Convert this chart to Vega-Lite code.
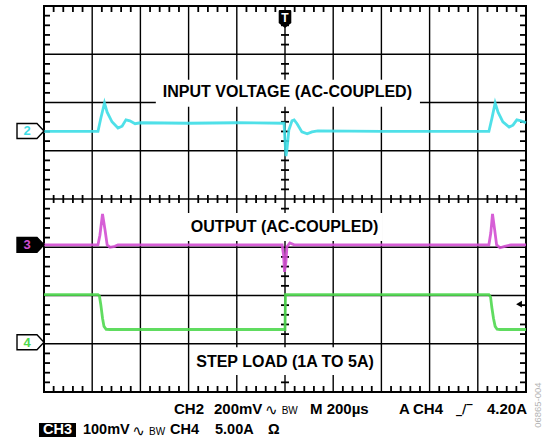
{
  "$schema": "https://vega.github.io/schema/vega-lite/v6.json",
  "width": 482,
  "height": 386,
  "autosize": {"type": "none"},
  "padding": {"left": 44, "top": 6, "right": 16, "bottom": 49},
  "background": "white",
  "config": {
    "view": {"stroke": "black", "strokeWidth": 2}
  },
  "datasets": {
    "tr": [
      {"ch": "2", "t": 0, "v": 5.40}, {"ch": "2", "t": 1.12, "v": 5.40}, {"ch": "2", "t": 1.18, "v": 5.68}, {"ch": "2", "t": 1.255, "v": 5.99},
      {"ch": "2", "t": 1.31, "v": 5.80}, {"ch": "2", "t": 1.41, "v": 5.60}, {"ch": "2", "t": 1.535, "v": 5.47}, {"ch": "2", "t": 1.62, "v": 5.51},
      {"ch": "2", "t": 1.70, "v": 5.64}, {"ch": "2", "t": 1.78, "v": 5.62}, {"ch": "2", "t": 1.89, "v": 5.56}, {"ch": "2", "t": 2.0, "v": 5.58},
      {"ch": "2", "t": 3.0, "v": 5.57}, {"ch": "2", "t": 4.0, "v": 5.58}, {"ch": "2", "t": 4.98, "v": 5.57}, {"ch": "2", "t": 5.0, "v": 5.20},
      {"ch": "2", "t": 5.02, "v": 4.89}, {"ch": "2", "t": 5.04, "v": 5.02}, {"ch": "2", "t": 5.08, "v": 5.43}, {"ch": "2", "t": 5.145, "v": 5.62},
      {"ch": "2", "t": 5.19, "v": 5.64}, {"ch": "2", "t": 5.25, "v": 5.56}, {"ch": "2", "t": 5.35, "v": 5.39}, {"ch": "2", "t": 5.46, "v": 5.35},
      {"ch": "2", "t": 5.56, "v": 5.39}, {"ch": "2", "t": 5.68, "v": 5.41}, {"ch": "2", "t": 7.0, "v": 5.40}, {"ch": "2", "t": 9.23, "v": 5.40},
      {"ch": "2", "t": 9.295, "v": 5.68}, {"ch": "2", "t": 9.36, "v": 5.99}, {"ch": "2", "t": 9.42, "v": 5.80}, {"ch": "2", "t": 9.52, "v": 5.60},
      {"ch": "2", "t": 9.65, "v": 5.49}, {"ch": "2", "t": 9.73, "v": 5.53}, {"ch": "2", "t": 9.81, "v": 5.64}, {"ch": "2", "t": 9.90, "v": 5.62},
      {"ch": "2", "t": 10, "v": 5.58},
      {"ch": "3", "t": 0, "v": 3.05}, {"ch": "3", "t": 1.12, "v": 3.05}, {"ch": "3", "t": 1.16, "v": 3.25}, {"ch": "3", "t": 1.214, "v": 3.69},
      {"ch": "3", "t": 1.266, "v": 3.36}, {"ch": "3", "t": 1.31, "v": 3.05}, {"ch": "3", "t": 1.37, "v": 3.0}, {"ch": "3", "t": 1.47, "v": 3.02},
      {"ch": "3", "t": 1.535, "v": 3.05}, {"ch": "3", "t": 4.94, "v": 3.05}, {"ch": "3", "t": 4.97, "v": 2.84}, {"ch": "3", "t": 4.99, "v": 2.49},
      {"ch": "3", "t": 5.02, "v": 2.70}, {"ch": "3", "t": 5.04, "v": 3.01}, {"ch": "3", "t": 5.10, "v": 3.09}, {"ch": "3", "t": 5.19, "v": 3.05},
      {"ch": "3", "t": 9.23, "v": 3.05}, {"ch": "3", "t": 9.27, "v": 3.30}, {"ch": "3", "t": 9.305, "v": 3.69}, {"ch": "3", "t": 9.35, "v": 3.36},
      {"ch": "3", "t": 9.39, "v": 3.05}, {"ch": "3", "t": 9.46, "v": 2.99}, {"ch": "3", "t": 9.56, "v": 3.02}, {"ch": "3", "t": 9.69, "v": 3.05},
      {"ch": "3", "t": 10, "v": 3.05},
      {"ch": "4", "t": 0, "v": 2.02}, {"ch": "4", "t": 1.12, "v": 2.02}, {"ch": "4", "t": 1.15, "v": 1.99}, {"ch": "4", "t": 1.18, "v": 1.80},
      {"ch": "4", "t": 1.214, "v": 1.53}, {"ch": "4", "t": 1.245, "v": 1.36}, {"ch": "4", "t": 1.29, "v": 1.30}, {"ch": "4", "t": 1.37, "v": 1.295},
      {"ch": "4", "t": 5.0, "v": 1.295}, {"ch": "4", "t": 5.01, "v": 2.02}, {"ch": "4", "t": 9.23, "v": 2.02}, {"ch": "4", "t": 9.265, "v": 1.97},
      {"ch": "4", "t": 9.29, "v": 1.76}, {"ch": "4", "t": 9.325, "v": 1.53}, {"ch": "4", "t": 9.36, "v": 1.36}, {"ch": "4", "t": 9.40, "v": 1.30},
      {"ch": "4", "t": 9.46, "v": 1.295}, {"ch": "4", "t": 10, "v": 1.295}
    ],
    "markers": [
      {"ch": "2", "lvl": 5.41}, {"ch": "3", "lvl": 3.05}, {"ch": "4", "lvl": 1.03}
    ],
    "xg": [{"g": 1}, {"g": 2}, {"g": 3}, {"g": 4}, {"g": 5}, {"g": 6}, {"g": 7}, {"g": 8}, {"g": 9}],
    "yg": [{"g": 1}, {"g": 2}, {"g": 3}, {"g": 4}, {"g": 5}, {"g": 6}, {"g": 7}],
    "xt": [
      {"p": 0.2}, {"p": 0.4}, {"p": 0.6}, {"p": 0.8}, {"p": 1.2}, {"p": 1.4}, {"p": 1.6}, {"p": 1.8},
      {"p": 2.2}, {"p": 2.4}, {"p": 2.6}, {"p": 2.8}, {"p": 3.2}, {"p": 3.4}, {"p": 3.6}, {"p": 3.8},
      {"p": 4.2}, {"p": 4.4}, {"p": 4.6}, {"p": 4.8}, {"p": 5.2}, {"p": 5.4}, {"p": 5.6}, {"p": 5.8},
      {"p": 6.2}, {"p": 6.4}, {"p": 6.6}, {"p": 6.8}, {"p": 7.2}, {"p": 7.4}, {"p": 7.6}, {"p": 7.8},
      {"p": 8.2}, {"p": 8.4}, {"p": 8.6}, {"p": 8.8}, {"p": 9.2}, {"p": 9.4}, {"p": 9.6}, {"p": 9.8}
    ],
    "yt": [
      {"p": 0.2}, {"p": 0.4}, {"p": 0.6}, {"p": 0.8}, {"p": 1.2}, {"p": 1.4}, {"p": 1.6}, {"p": 1.8},
      {"p": 2.2}, {"p": 2.4}, {"p": 2.6}, {"p": 2.8}, {"p": 3.2}, {"p": 3.4}, {"p": 3.6}, {"p": 3.8},
      {"p": 4.2}, {"p": 4.4}, {"p": 4.6}, {"p": 4.8}, {"p": 5.2}, {"p": 5.4}, {"p": 5.6}, {"p": 5.8},
      {"p": 6.2}, {"p": 6.4}, {"p": 6.6}, {"p": 6.8}, {"p": 7.2}, {"p": 7.4}, {"p": 7.6}, {"p": 7.8}
    ]
  },
  "layer": [
    {
      "data": {"name": "xg"},
      "mark": {"type": "tick", "orient": "vertical", "size": 386, "thickness": 1.4, "color": "black", "opacity": 1},
      "encoding": {
        "x": {"field": "g", "type": "quantitative", "scale": {"domain": [0, 10], "nice": false, "zero": false}, "axis": null},
        "y": {"datum": 4, "type": "quantitative", "scale": {"domain": [0, 8], "nice": false, "zero": false}, "axis": null}
      }
    },
    {
      "data": {"name": "yg"},
      "mark": {"type": "tick", "orient": "horizontal", "size": 482, "thickness": 1.4, "color": "black", "opacity": 1},
      "encoding": {
        "y": {"field": "g", "type": "quantitative", "scale": {"domain": [0, 8], "nice": false, "zero": false}, "axis": null},
        "x": {"datum": 5, "type": "quantitative", "scale": {"domain": [0, 10], "nice": false, "zero": false}, "axis": null}
      }
    },
    {
      "data": {"name": "xt"},
      "mark": {"type": "tick", "orient": "vertical", "size": 12, "thickness": 1.8, "color": "black", "opacity": 1, "clip": true},
      "encoding": {
        "x": {"field": "p", "type": "quantitative", "scale": {"domain": [0, 10], "nice": false, "zero": false}, "axis": null},
        "y": {"datum": 0, "type": "quantitative", "scale": {"domain": [0, 8], "nice": false, "zero": false}, "axis": null}
      }
    },
    {
      "data": {"name": "xt"},
      "mark": {"type": "tick", "orient": "vertical", "size": 12, "thickness": 1.8, "color": "black", "opacity": 1, "clip": true},
      "encoding": {
        "x": {"field": "p", "type": "quantitative", "scale": {"domain": [0, 10], "nice": false, "zero": false}, "axis": null},
        "y": {"datum": 8, "type": "quantitative", "scale": {"domain": [0, 8], "nice": false, "zero": false}, "axis": null}
      }
    },
    {
      "data": {"name": "xt"},
      "mark": {"type": "tick", "orient": "vertical", "size": 8, "thickness": 1.8, "color": "black", "opacity": 1},
      "encoding": {
        "x": {"field": "p", "type": "quantitative", "scale": {"domain": [0, 10], "nice": false, "zero": false}, "axis": null},
        "y": {"datum": 4, "type": "quantitative", "scale": {"domain": [0, 8], "nice": false, "zero": false}, "axis": null}
      }
    },
    {
      "data": {"name": "yt"},
      "mark": {"type": "tick", "orient": "horizontal", "size": 12, "thickness": 1.8, "color": "black", "opacity": 1, "clip": true},
      "encoding": {
        "y": {"field": "p", "type": "quantitative", "scale": {"domain": [0, 8], "nice": false, "zero": false}, "axis": null},
        "x": {"datum": 0, "type": "quantitative", "scale": {"domain": [0, 10], "nice": false, "zero": false}, "axis": null}
      }
    },
    {
      "data": {"name": "yt"},
      "mark": {"type": "tick", "orient": "horizontal", "size": 12, "thickness": 1.8, "color": "black", "opacity": 1, "clip": true},
      "encoding": {
        "y": {"field": "p", "type": "quantitative", "scale": {"domain": [0, 8], "nice": false, "zero": false}, "axis": null},
        "x": {"datum": 10, "type": "quantitative", "scale": {"domain": [0, 10], "nice": false, "zero": false}, "axis": null}
      }
    },
    {
      "data": {"name": "yt"},
      "mark": {"type": "tick", "orient": "horizontal", "size": 8, "thickness": 1.8, "color": "black", "opacity": 1},
      "encoding": {
        "y": {"field": "p", "type": "quantitative", "scale": {"domain": [0, 8], "nice": false, "zero": false}, "axis": null},
        "x": {"datum": 5, "type": "quantitative", "scale": {"domain": [0, 10], "nice": false, "zero": false}, "axis": null}
      }
    },
    {
      "data": {"values": [{}]},
      "mark": {"type": "rect", "fill": "white"},
      "encoding": {
        "x": {"datum": 2.32, "type": "quantitative", "scale": {"domain": [0, 10], "nice": false, "zero": false}, "axis": null},
        "x2": {"datum": 7.80},
        "y": {"datum": 5.91, "type": "quantitative", "scale": {"domain": [0, 8], "nice": false, "zero": false}, "axis": null},
        "y2": {"datum": 6.47}
      }
    },
    {
      "data": {"values": [{}]},
      "mark": {"type": "rect", "fill": "white"},
      "encoding": {
        "x": {"datum": 2.95, "type": "quantitative", "scale": {"domain": [0, 10], "nice": false, "zero": false}, "axis": null},
        "x2": {"datum": 7.03},
        "y": {"datum": 3.13, "type": "quantitative", "scale": {"domain": [0, 8], "nice": false, "zero": false}, "axis": null},
        "y2": {"datum": 3.71}
      }
    },
    {
      "data": {"values": [{}]},
      "mark": {"type": "rect", "fill": "white"},
      "encoding": {
        "x": {"datum": 3.03, "type": "quantitative", "scale": {"domain": [0, 10], "nice": false, "zero": false}, "axis": null},
        "x2": {"datum": 6.93},
        "y": {"datum": 0.35, "type": "quantitative", "scale": {"domain": [0, 8], "nice": false, "zero": false}, "axis": null},
        "y2": {"datum": 0.93}
      }
    },
    {
      "data": {"values": [{}]},
      "mark": {"type": "text", "font": "Liberation Sans", "fontWeight": "bold", "fontSize": 16, "align": "center", "baseline": "middle", "color": "black"},
      "encoding": {
        "x": {"datum": 5.05, "type": "quantitative", "scale": {"domain": [0, 10], "nice": false, "zero": false}, "axis": null},
        "y": {"datum": 6.21, "type": "quantitative", "scale": {"domain": [0, 8], "nice": false, "zero": false}, "axis": null},
        "text": {"value": "INPUT VOLTAGE (AC-COUPLED)"}
      }
    },
    {
      "data": {"values": [{}]},
      "mark": {"type": "text", "font": "Liberation Sans", "fontWeight": "bold", "fontSize": 16, "align": "center", "baseline": "middle", "color": "black"},
      "encoding": {
        "x": {"datum": 4.99, "type": "quantitative", "scale": {"domain": [0, 10], "nice": false, "zero": false}, "axis": null},
        "y": {"datum": 3.42, "type": "quantitative", "scale": {"domain": [0, 8], "nice": false, "zero": false}, "axis": null},
        "text": {"value": "OUTPUT (AC-COUPLED)"}
      }
    },
    {
      "data": {"values": [{}]},
      "mark": {"type": "text", "font": "Liberation Sans", "fontWeight": "bold", "fontSize": 16, "align": "center", "baseline": "middle", "color": "black"},
      "encoding": {
        "x": {"datum": 5.0, "type": "quantitative", "scale": {"domain": [0, 10], "nice": false, "zero": false}, "axis": null},
        "y": {"datum": 0.62, "type": "quantitative", "scale": {"domain": [0, 8], "nice": false, "zero": false}, "axis": null},
        "text": {"value": "STEP LOAD (1A TO 5A)"}
      }
    },
    {
      "data": {"name": "tr"},
      "mark": {"type": "line", "strokeWidth": 2.8, "opacity": 0.9, "interpolate": "linear"},
      "encoding": {
        "x": {"field": "t", "type": "quantitative", "scale": {"domain": [0, 10], "nice": false, "zero": false}, "axis": null},
        "y": {"field": "v", "type": "quantitative", "scale": {"domain": [0, 8], "nice": false, "zero": false}, "axis": null},
        "color": {"field": "ch", "type": "nominal", "scale": {"domain": ["2", "3", "4"], "range": ["#3CDDE6", "#D24ED2", "#4FD84F"]}, "legend": null}
      }
    },
    {
      "data": {"name": "markers"},
      "mark": {"type": "point", "shape": "M -1 -0.555 L 0.48 -0.555 L 1 0 L 0.48 0.555 L -1 0.555 Z", "size": 729, "filled": true, "stroke": "black", "strokeWidth": 1.4, "opacity": 1},
      "encoding": {
        "x": {"datum": -0.28, "type": "quantitative", "scale": {"domain": [0, 10], "nice": false, "zero": false}, "axis": null},
        "y": {"field": "lvl", "type": "quantitative", "scale": {"domain": [0, 8], "nice": false, "zero": false}, "axis": null},
        "fill": {"field": "ch", "type": "nominal", "scale": {"domain": ["2", "3", "4"], "range": ["white", "black", "white"]}, "legend": null}
      }
    },
    {
      "data": {"name": "markers"},
      "mark": {"type": "text", "font": "Liberation Sans", "fontWeight": "bold", "fontSize": 13, "align": "center", "baseline": "middle", "dx": -3.5, "dy": 0.5},
      "encoding": {
        "x": {"datum": -0.28, "type": "quantitative", "scale": {"domain": [0, 10], "nice": false, "zero": false}, "axis": null},
        "y": {"field": "lvl", "type": "quantitative", "scale": {"domain": [0, 8], "nice": false, "zero": false}, "axis": null},
        "text": {"field": "ch"},
        "color": {"field": "ch", "type": "nominal", "scale": {"domain": ["2", "3", "4"], "range": ["black", "white", "black"]}, "legend": null}
      }
    },
    {
      "data": {"values": [{}]},
      "mark": {"type": "point", "shape": "M -0.6 -1 L 0.6 -1 Q 0.7 -1 0.7 -0.85 L 0.7 0.45 L 0 1 L -0.7 0.45 L -0.7 -0.85 Q -0.7 -1 -0.6 -1 Z", "size": 324, "filled": true, "fill": "black", "opacity": 1},
      "encoding": {
        "x": {"datum": 5.0, "type": "quantitative", "scale": {"domain": [0, 10], "nice": false, "zero": false}, "axis": null},
        "y": {"datum": 7.73, "type": "quantitative", "scale": {"domain": [0, 8], "nice": false, "zero": false}, "axis": null}
      }
    },
    {
      "data": {"values": [{}]},
      "mark": {"type": "text", "font": "Liberation Sans", "fontWeight": "bold", "fontSize": 12, "align": "center", "baseline": "middle", "color": "white", "dy": -1.5},
      "encoding": {
        "x": {"datum": 5.0, "type": "quantitative", "scale": {"domain": [0, 10], "nice": false, "zero": false}, "axis": null},
        "y": {"datum": 7.73, "type": "quantitative", "scale": {"domain": [0, 8], "nice": false, "zero": false}, "axis": null},
        "text": {"value": "T"}
      }
    },
    {
      "data": {"values": [{}]},
      "mark": {"type": "point", "shape": "triangle-left", "size": 45, "filled": true, "fill": "black", "opacity": 1},
      "encoding": {
        "x": {"datum": 9.855, "type": "quantitative", "scale": {"domain": [0, 10], "nice": false, "zero": false}, "axis": null},
        "y": {"datum": 1.82, "type": "quantitative", "scale": {"domain": [0, 8], "nice": false, "zero": false}, "axis": null}
      }
    },
    {
      "data": {"values": [
        {"s": "CH2", "p": 2.697},
        {"s": "200mV", "p": 3.527},
        {"s": "M 200µs", "p": 5.519},
        {"s": "A", "p": 7.365},
        {"s": "CH4", "p": 7.656}
      ]},
      "mark": {"type": "text", "font": "Liberation Sans", "fontWeight": "bold", "fontSize": 15, "align": "left", "baseline": "middle", "color": "black"},
      "encoding": {
        "x": {"field": "p", "type": "quantitative", "scale": {"domain": [0, 10], "nice": false, "zero": false}, "axis": null},
        "y": {"datum": -0.352, "type": "quantitative", "scale": {"domain": [0, 8], "nice": false, "zero": false}, "axis": null},
        "text": {"field": "s"}
      }
    },
    {
      "data": {"values": [{"s": "4.20A", "p": 10.02}]},
      "mark": {"type": "text", "font": "Liberation Sans", "fontWeight": "bold", "fontSize": 15, "align": "right", "baseline": "middle", "color": "black"},
      "encoding": {
        "x": {"field": "p", "type": "quantitative", "scale": {"domain": [0, 10], "nice": false, "zero": false}, "axis": null},
        "y": {"datum": -0.352, "type": "quantitative", "scale": {"domain": [0, 8], "nice": false, "zero": false}, "axis": null},
        "text": {"field": "s"}
      }
    },
    {
      "data": {"values": [
        {"s": "100mV", "p": 0.809},
        {"s": "CH4", "p": 2.614},
        {"s": "5.00A", "p": 3.548},
        {"s": "Ω", "p": 4.647}
      ]},
      "mark": {"type": "text", "font": "Liberation Sans", "fontWeight": "bold", "fontSize": 14.5, "align": "left", "baseline": "middle", "color": "black"},
      "encoding": {
        "x": {"field": "p", "type": "quantitative", "scale": {"domain": [0, 10], "nice": false, "zero": false}, "axis": null},
        "y": {"datum": -0.788, "type": "quantitative", "scale": {"domain": [0, 8], "nice": false, "zero": false}, "axis": null},
        "text": {"field": "s"}
      }
    },
    {
      "data": {"values": [{"p": 4.585}]},
      "mark": {"type": "text", "font": "DejaVu Sans", "fontWeight": "normal", "fontSize": 15, "align": "left", "baseline": "middle", "color": "black", "dy": 1},
      "encoding": {
        "x": {"field": "p", "type": "quantitative", "scale": {"domain": [0, 10], "nice": false, "zero": false}, "axis": null},
        "y": {"datum": -0.352, "type": "quantitative", "scale": {"domain": [0, 8], "nice": false, "zero": false}, "axis": null},
        "text": {"value": "∿"}
      }
    },
    {
      "data": {"values": [{"p": 1.83}]},
      "mark": {"type": "text", "font": "DejaVu Sans", "fontWeight": "normal", "fontSize": 15, "align": "left", "baseline": "middle", "color": "black", "dy": 1},
      "encoding": {
        "x": {"field": "p", "type": "quantitative", "scale": {"domain": [0, 10], "nice": false, "zero": false}, "axis": null},
        "y": {"datum": -0.788, "type": "quantitative", "scale": {"domain": [0, 8], "nice": false, "zero": false}, "axis": null},
        "text": {"value": "∿"}
      }
    },
    {
      "data": {"values": [{"p": 4.93}]},
      "mark": {"type": "text", "font": "Liberation Sans", "fontWeight": "normal", "fontSize": 10, "align": "left", "baseline": "middle", "color": "black", "dy": 2},
      "encoding": {
        "x": {"field": "p", "type": "quantitative", "scale": {"domain": [0, 10], "nice": false, "zero": false}, "axis": null},
        "y": {"datum": -0.352, "type": "quantitative", "scale": {"domain": [0, 8], "nice": false, "zero": false}, "axis": null},
        "text": {"value": "BW"}
      }
    },
    {
      "data": {"values": [{"p": 2.18}]},
      "mark": {"type": "text", "font": "Liberation Sans", "fontWeight": "normal", "fontSize": 10, "align": "left", "baseline": "middle", "color": "black", "dy": 2},
      "encoding": {
        "x": {"field": "p", "type": "quantitative", "scale": {"domain": [0, 10], "nice": false, "zero": false}, "axis": null},
        "y": {"datum": -0.788, "type": "quantitative", "scale": {"domain": [0, 8], "nice": false, "zero": false}, "axis": null},
        "text": {"value": "BW"}
      }
    },
    {
      "data": {"values": [{"p": 8.55}]},
      "mark": {"type": "text", "font": "DejaVu Sans", "fontWeight": "bold", "fontSize": 12, "align": "left", "baseline": "middle", "color": "black"},
      "encoding": {
        "x": {"field": "p", "type": "quantitative", "scale": {"domain": [0, 10], "nice": false, "zero": false}, "axis": null},
        "y": {"datum": -0.352, "type": "quantitative", "scale": {"domain": [0, 8], "nice": false, "zero": false}, "axis": null},
        "text": {"value": "_/‾"}
      }
    },
    {
      "data": {"values": [{}]},
      "mark": {"type": "rect", "fill": "black"},
      "encoding": {
        "x": {"datum": -0.104, "type": "quantitative", "scale": {"domain": [0, 10], "nice": false, "zero": false}, "axis": null},
        "x2": {"datum": 0.664},
        "y": {"datum": -0.933, "type": "quantitative", "scale": {"domain": [0, 8], "nice": false, "zero": false}, "axis": null},
        "y2": {"datum": -0.642}
      }
    },
    {
      "data": {"values": [{}]},
      "mark": {"type": "text", "font": "Liberation Sans", "fontWeight": "bold", "fontSize": 14.5, "align": "center", "baseline": "middle", "color": "white"},
      "encoding": {
        "x": {"datum": 0.28, "type": "quantitative", "scale": {"domain": [0, 10], "nice": false, "zero": false}, "axis": null},
        "y": {"datum": -0.788, "type": "quantitative", "scale": {"domain": [0, 8], "nice": false, "zero": false}, "axis": null},
        "text": {"value": "CH3"}
      }
    },
    {
      "data": {"values": [{}]},
      "mark": {"type": "text", "font": "Liberation Sans", "fontWeight": "normal", "fontSize": 9.5, "angle": 270, "align": "right", "baseline": "middle", "color": "#b5b5b5"},
      "encoding": {
        "x": {"datum": 10.249, "type": "quantitative", "scale": {"domain": [0, 10], "nice": false, "zero": false}, "axis": null},
        "y": {"datum": 0.2, "type": "quantitative", "scale": {"domain": [0, 8], "nice": false, "zero": false}, "axis": null},
        "text": {"value": "06865-004"}
      }
    }
  ]
}
